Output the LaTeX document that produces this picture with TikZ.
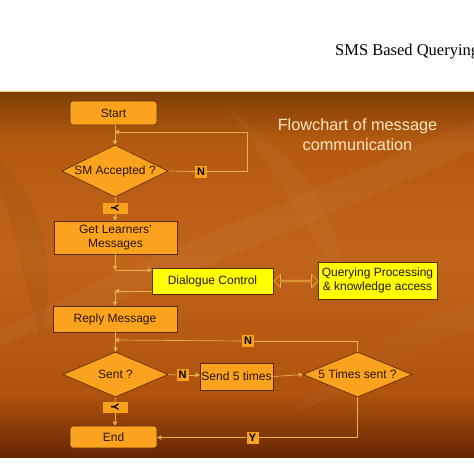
\documentclass[tikz,border=0pt]{standalone}
\usepackage{fontspec}
\usepackage{graphicx}
\setmainfont{Liberation Sans}
\newfontfamily\hdrfont{Liberation Serif}
\usetikzlibrary{shapes.geometric,shapes.arrows,arrows.meta}
\definecolor{bgtop}{HTML}{7E3F06}
\definecolor{bgmid}{HTML}{B45A10}
\definecolor{bgmid2}{HTML}{C0641A}
\definecolor{bglow}{HTML}{AE520E}
\definecolor{bgbot}{HTML}{682603}
\definecolor{boxfill}{HTML}{FBA31E}
\definecolor{boxline}{HTML}{5A2A00}
\definecolor{yfill}{HTML}{FFFF00}
\definecolor{lineclr}{HTML}{E8B24A}
\definecolor{txtclr}{HTML}{2A1400}
\definecolor{ttlclr}{HTML}{FCE6C0}
\definecolor{lblfill}{HTML}{F7A11C}
\begin{document}
\begin{tikzpicture}[x=1pt,y=-1pt,
  box/.style={draw=boxline, fill=boxfill, line width=0.6pt, inner sep=0pt,
    text=txtclr, font=\fontsize{12}{13.5}\selectfont, align=center},
  rbox/.style={box, rounded corners=3pt},
  ybox/.style={box, fill=yfill, draw=boxline},
  dia/.style={box, shape=diamond},
  lbl/.style={fill=lblfill, inner sep=0pt, text=black,
    font=\bfseries\fontsize{11}{12}\selectfont, minimum width=12pt, minimum height=12pt},
  wire/.style={draw=lineclr, line width=0.7pt},
  conn/.style={wire, -{Triangle[length=4pt,width=4.5pt]}},
  title/.style={text=ttlclr, font=\fontsize{16.3}{20}\selectfont, align=center}
]
\useasboundingbox (0,0) rectangle (474,474);
\fill[white] (0,0) rectangle (474,474);
% background panel
\shade[top color=bgtop, bottom color=bgmid] (0,91) rectangle (474,140.5);
\shade[top color=bgmid, bottom color=bgmid2] (0,140) rectangle (474,260.5);
\shade[top color=bgmid2, bottom color=bglow] (0,260) rectangle (474,395.5);
\shade[top color=bglow, bottom color=bgbot] (0,395) rectangle (474,457);
\draw[color=lineclr!70!white, line width=0.8pt] (0,91.4) -- (474,91.4);
% faint decorative leaves
\fill[white, opacity=0.03] (0,330) .. controls (150,250) and (300,200) .. (474,120) -- (474,150) .. controls (300,230) and (150,290) .. (0,345) -- cycle;
\fill[white, opacity=0.03] (230,110) .. controls (300,160) and (330,190) .. (350,300) .. controls (310,230) and (280,180) .. (230,110) -- cycle;
\fill[white, opacity=0.025] (280,420) .. controls (330,380) and (380,330) .. (474,300) -- (474,330) .. controls (400,350) and (340,400) .. (280,420) -- cycle;
\fill[black, opacity=0.04] (0,160) .. controls (40,200) and (60,260) .. (40,340) .. controls (20,260) and (10,210) .. (0,190) -- cycle;

% header and title
\node[font=\hdrfont\fontsize{16.5}{18}\selectfont, anchor=west, inner sep=0pt] (hdr) at (335,52) {SMS Based Querying};
\node[title] (ttl) at (357.5,135) {Flowchart of message\\communication};

% nodes
\node[rbox, minimum width=87pt, minimum height=24pt] (start) at (113.5,113) {Start};
\node[dia, minimum width=106pt, minimum height=52pt, aspect=2] (sma) at (115,171) {SM Accepted ?};
\node[lbl] (n1) at (201,171.5) {N};
\node[lbl, minimum width=25pt, minimum height=11pt] (y1) at (115,208) {\rotatebox{-90}{Y}};
\node[box, minimum width=123pt, minimum height=33pt] (glm) at (115.5,237.5) {Get Learners'\\Messages};
\node[ybox, minimum width=121pt, minimum height=26pt] (dc) at (212.5,281) {Dialogue Control};
\node[ybox, minimum width=119pt, minimum height=37pt] (qp) at (377.5,280.5) {Querying Processing\\\& knowledge access};
\node[double arrow, draw=lineclr, line width=0.7pt, inner sep=0pt,
  minimum width=13pt, minimum height=44pt, double arrow head extend=3pt,
  double arrow head indent=0pt] (da) at (296,281) {};
\node[box, minimum width=124pt, minimum height=26pt] (rm) at (115,319) {Reply Message};
\node[dia, minimum width=105pt, minimum height=45pt, aspect=2.4] (sent) at (115.5,374.5) {Sent ?};
\node[lbl] (n3) at (182.5,375) {N};
\node[box, minimum width=73pt, minimum height=27pt] (snd) at (236.5,376.5) {Send 5 times};
\node[dia, minimum width=109pt, minimum height=45pt, aspect=2.4] (fts) at (357.5,374.5) {5 Times sent ?};
\node[lbl] (n2) at (248,341) {N};
\node[lbl, minimum width=25pt, minimum height=11pt] (y2) at (115,407.5) {\rotatebox{-90}{Y}};
\node[rbox, minimum width=87pt, minimum height=22pt] (end) at (113.5,437) {End};
\node[lbl] (y3) at (252.5,437.5) {Y};

% connectors
\coordinate (j1) at (115,132);
\coordinate (c2) at (115,270);
\coordinate (c3) at (115,291);
\coordinate (c4) at (115,340);
\draw[conn] (start.south -| sma.north) -- (sma.north);
\draw[wire] (sma.east) -- (n1.west);
\draw[conn] (n1.east) -- ++(40,0) |- (j1);
\draw[wire] (sma.south) -- (y1.north);
\draw[conn] (y1.south) -- (glm.north -| y1.south);
\draw[conn] (glm.south -| c2) -- (c2);
\draw[conn] (c2) -- (c2 -| dc.west);
\draw[conn] (c3 -| dc.west) -- (c3);
\draw[conn] (c3) -- (rm.north -| c3);
\draw[conn] (rm.south -| sent.north) -- (sent.north);
\draw[wire] (fts.north) |- (n2.east);
\draw[conn] (n2.west) -- (c4);
\draw[wire] (sent.east) -- (n3.west);
\draw[conn] (n3.east) -- (snd.west |- n3.east);
\draw[conn] (snd.east) -- (fts.west);
\draw[wire] (sent.south) -- (y2.north);
\draw[conn] (y2.south) -- (end.north -| y2.south);
\draw[wire] (fts.south) |- (y3.east);
\draw[conn] (y3.west) -- (y3.west -| end.east);
\end{tikzpicture}
\end{document}
